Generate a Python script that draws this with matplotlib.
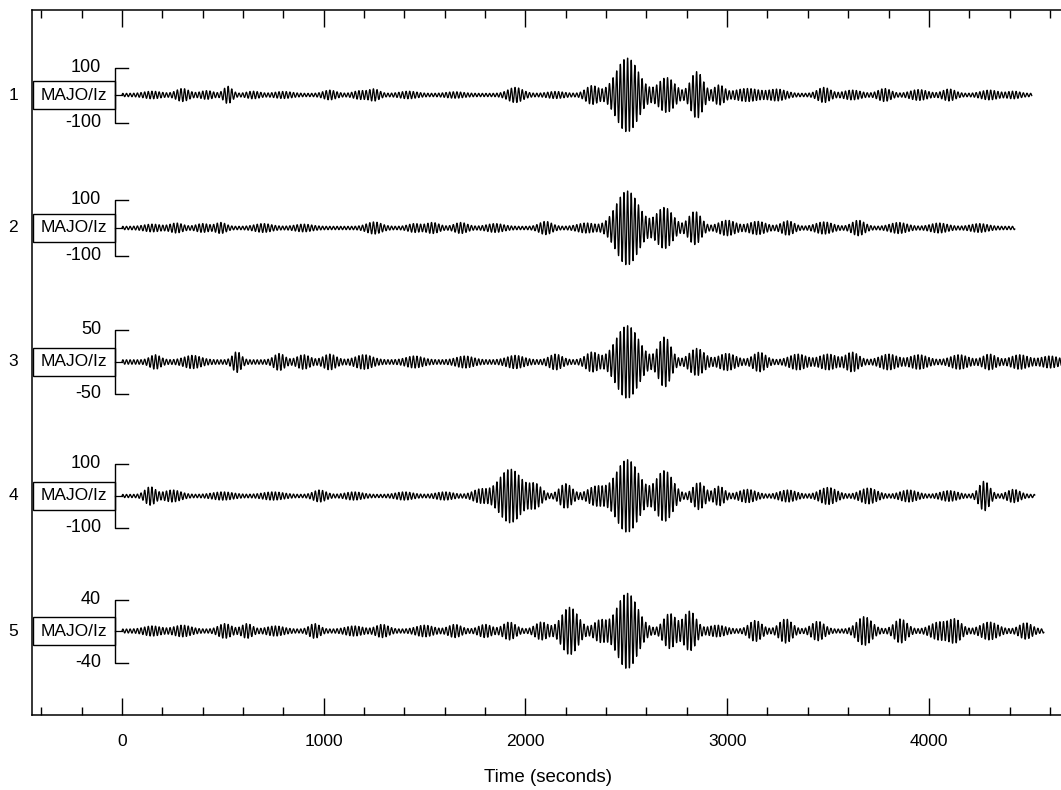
import numpy as np
import matplotlib.pyplot as plt
from matplotlib.patches import Rectangle

plt.rcParams['font.family'] = ['Liberation Sans', 'DejaVu Sans']

station = "MAJO/Iz"
trace_ids = [1, 2, 3, 4, 5]
scale_vals = [100, 100, 50, 100, 40]
t_end = [4510, 4426, 4700, 4525, 4570]
base_amp = [6, 6, 3.5, 5, 2.5]
period = 18.0

# wave packets per trace: centre time (s), amplitude, width (s)
p1_t = [150, 300, 420, 525, 650, 800, 1030, 1180, 1250, 1420, 1650, 1950, 2150, 2330,
        2505, 2700, 2850, 2960, 3100, 3250, 3480, 3620, 3780, 3950, 4100, 4300, 4420]
p1_a = [8, 18, 10, 26, 8, 7, 12, 10, 16, 8, 6, 22, 7, 28,
        130, 58, 80, 30, 18, 15, 22, 12, 18, 14, 16, 12, 8]
p1_w = [40, 30, 30, 20, 30, 40, 30, 30, 25, 40, 40, 35, 40, 30,
        55, 40, 30, 25, 60, 40, 30, 40, 30, 40, 30, 40, 30]

p2_t = [150, 270, 400, 490, 700, 900, 1250, 1450, 1540, 1680, 1850, 2100, 2300,
        2505, 2690, 2840, 3000, 3150, 3300, 3480, 3650, 3850, 4050, 4250]
p2_a = [8, 12, 10, 14, 10, 8, 16, 10, 14, 14, 10, 18, 12,
        128, 68, 54, 22, 18, 20, 16, 22, 14, 12, 10]
p2_w = [40, 30, 30, 25, 40, 40, 35, 30, 30, 30, 40, 30, 40,
        55, 40, 30, 40, 40, 30, 40, 30, 40, 40, 40]

p3_t = [165, 350, 570, 780, 900, 1030, 1200, 1450, 1700, 1950, 2150, 2330,
        2505, 2690, 2850, 3000, 3160, 3350, 3500, 3620, 3800, 3950, 4150, 4300, 4450, 4600]
p3_a = [8, 7, 13, 10, 8, 9, 8, 6, 6, 7, 9, 12,
        54, 36, 18, 10, 12, 9, 9, 12, 9, 8, 8, 9, 8, 6]
p3_w = [25, 40, 20, 25, 30, 30, 40, 40, 40, 40, 30, 30,
        55, 30, 35, 40, 30, 40, 40, 30, 40, 40, 40, 30, 40, 40]

p4_t = [140, 250, 500, 750, 980, 1150, 1400, 1600, 1775, 1925, 2050, 2200, 2350,
        2505, 2690, 2860, 2960, 3100, 3300, 3500, 3700, 3900, 4100, 4275, 4420]
p4_a = [24, 14, 8, 8, 14, 8, 8, 8, 16, 80, 30, 34, 25,
        110, 75, 38, 26, 16, 14, 22, 20, 14, 12, 42, 16]
p4_w = [25, 40, 50, 50, 30, 40, 40, 40, 35, 55, 30, 30, 40,
        55, 40, 28, 25, 40, 40, 40, 40, 40, 40, 25, 30]

p5_t = [150, 300, 510, 620, 760, 955, 1150, 1290, 1500, 1650, 1800, 1920, 2080, 2220,
        2370, 2505, 2715, 2815, 2950, 3140, 3290, 3450, 3680, 3860, 4050, 4130, 4300, 4480]
p5_a = [4, 5, 7, 7, 4, 7, 4, 6, 5, 6, 6, 9, 9, 28,
        11, 46, 20, 23, 5, 11, 13, 10, 16, 13, 9, 12, 9, 8]
p5_w = [40, 40, 30, 25, 40, 25, 40, 30, 40, 30, 30, 30, 30, 40,
        30, 50, 30, 30, 40, 30, 30, 30, 35, 30, 40, 30, 40, 30]

packets = [(p1_t, p1_a, p1_w), (p2_t, p2_a, p2_w), (p3_t, p3_a, p3_w),
           (p4_t, p4_a, p4_w), (p5_t, p5_a, p5_w)]

# layout in pixel units (y grows downward)
baselines = [95, 228, 362, 496, 631]
bar_px = [27.5, 28, 32, 32, 31.5]

fig = plt.figure(figsize=(10.61, 7.90), dpi=100)
ax = fig.add_axes([32 / 1061, 1 - 715 / 790, 1 - 32 / 1061, (715 - 10) / 790])
ax.set_xlim(-446, 4655)
ax.set_ylim(715, 10)

for k in range(5):
    tc, ta, tw = packets[k]
    t = np.arange(0, t_end[k] + 1, 1.0)
    env = np.full_like(t, base_amp[k])
    for c, a, w in zip(tc, ta, tw):
        env += a * np.exp(-0.5 * ((t - c) / w) ** 2)
    sig = env * np.sin(2 * np.pi * t / period)
    gain = bar_px[k] / scale_vals[k]
    y0 = baselines[k]
    ax.plot(t, y0 - sig * gain, color='black', lw=0.9)

    # station box, scale bracket and labels
    ax.add_patch(Rectangle((-441, y0 - 14), 406, 28, fill=False, lw=1.0,
                           ec='black', clip_on=False))
    ax.text(-238, y0, station, ha='center', va='center', fontsize=12.5)
    ax.plot([-35, 0], [y0, y0], color='black', lw=0.9)
    ax.plot([30, -35, -35, 30], [y0 - bar_px[k], y0 - bar_px[k],
                                 y0 + bar_px[k], y0 + bar_px[k]],
            color='black', lw=1.0)
    ax.text(-104, y0 - bar_px[k], str(scale_vals[k]), ha='right', va='center',
            fontsize=13)
    ax.text(-104, y0 + bar_px[k], str(-scale_vals[k]), ha='right', va='center',
            fontsize=13)
    ax.text(-540, y0, str(trace_ids[k]), ha='center', va='center',
            fontsize=12.5, clip_on=False)

ax.set_xticks([0, 1000, 2000, 3000, 4000])
ax.set_xticks(np.arange(-400, 4700, 200), minor=True)
ax.set_yticks([])
ax.tick_params(axis='x', which='both', direction='in', top=True, bottom=True,
               width=1.0, pad=14, labelsize=12.5)
ax.tick_params(axis='x', which='major', length=12)
ax.tick_params(axis='x', which='minor', length=6)
ax.spines['right'].set_visible(False)
for s in ['left', 'top', 'bottom']:
    ax.spines[s].set_linewidth(1.1)

fig.text(548 / 1061, 1 - 777 / 790, "Time (seconds)", ha='center', va='center',
         fontsize=13.5)

fig.savefig("out.png", dpi=100)
